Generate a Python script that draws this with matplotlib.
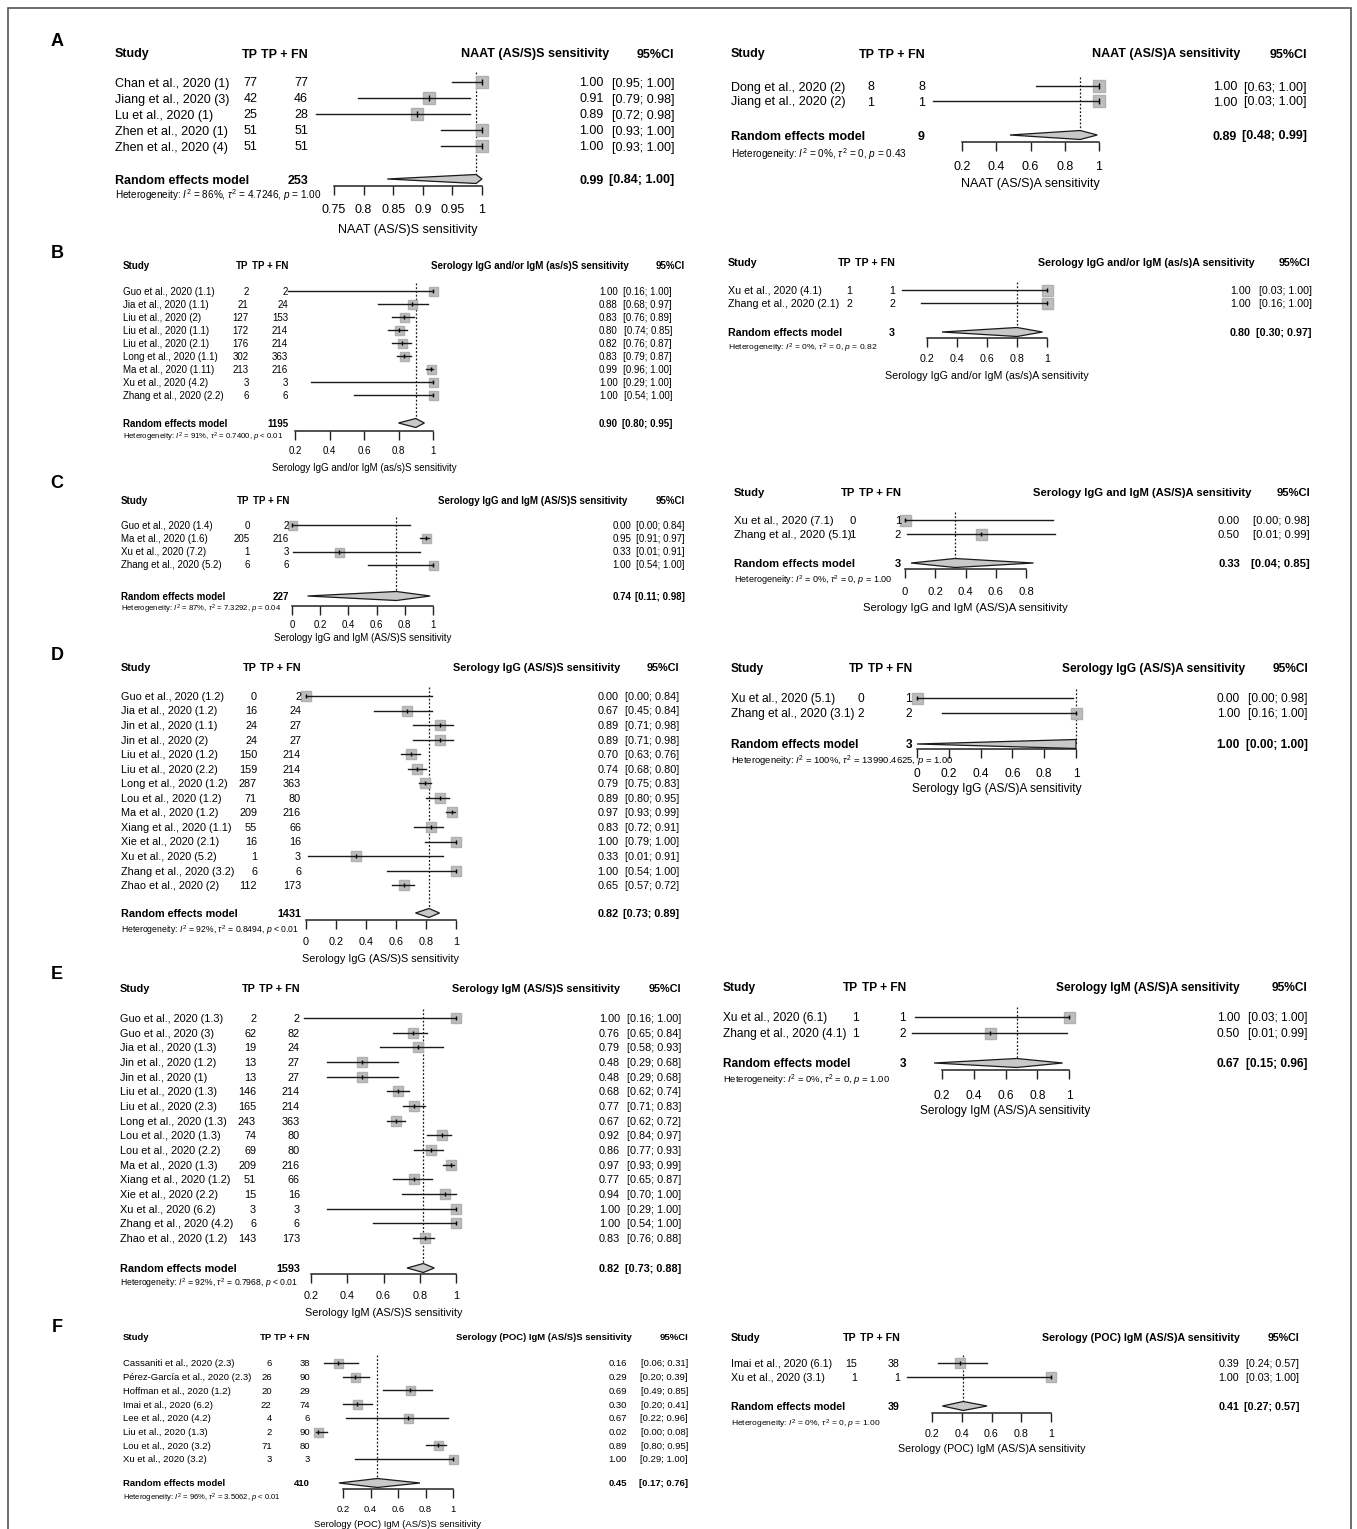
import matplotlib
matplotlib.use("Agg")
import matplotlib.pyplot as plt
import matplotlib.font_manager as fm
from matplotlib.patches import Polygon, Rectangle
from matplotlib.ticker import FuncFormatter
import numpy as np

W, H = 1357, 1529

avail = {f.name for f in fm.fontManager.ttflist}
if "Liberation Sans Narrow" in avail:
    FONT, SCALE = "Liberation Sans Narrow", 1.0
else:
    FONT, SCALE = "Liberation Sans", 0.9

plt.rcParams["font.family"] = [FONT, "DejaVu Sans"]
plt.rcParams["mathtext.fontset"] = "custom"
plt.rcParams["mathtext.rm"] = FONT
plt.rcParams["mathtext.it"] = FONT + ":italic"

#_____________________________________________________________________________
# A: NAAT
naat_s_study = ["Chan et al., 2020 (1)", "Jiang et al., 2020 (3)", "Lu et al., 2020 (1)",
                "Zhen et al., 2020 (1)", "Zhen et al., 2020 (4)"]
naat_s_tp = [77, 42, 25, 51, 51]
naat_s_n = [77, 46, 28, 51, 51]
naat_s_est = [1.00, 0.91, 0.89, 1.00, 1.00]
naat_s_lo = [0.95, 0.79, 0.72, 0.93, 0.93]
naat_s_hi = [1.00, 0.98, 0.98, 1.00, 1.00]
naat_s_re = [253, 0.99, 0.84, 1.00]
naat_s_het = ["86%", "4.7246", "= 1.00"]

naat_a_study = ["Dong et al., 2020 (2)", "Jiang et al., 2020 (2)"]
naat_a_tp = [8, 1]
naat_a_n = [8, 1]
naat_a_est = [1.00, 1.00]
naat_a_lo = [0.63, 0.03]
naat_a_hi = [1.00, 1.00]
naat_a_re = [9, 0.89, 0.48, 0.99]
naat_a_het = ["0%", "0", "= 0.43"]

# B: IgG and/or IgM
any_s_study = ["Guo et al., 2020 (1.1)", "Jia et al., 2020 (1.1)", "Liu et al., 2020 (2)",
               "Liu et al., 2020 (1.1)", "Liu et al., 2020 (2.1)", "Long et al., 2020 (1.1)",
               "Ma et al., 2020 (1.11)", "Xu et al., 2020 (4.2)", "Zhang et al., 2020 (2.2)"]
any_s_tp = [2, 21, 127, 172, 176, 302, 213, 3, 6]
any_s_n = [2, 24, 153, 214, 214, 363, 216, 3, 6]
any_s_est = [1.00, 0.88, 0.83, 0.80, 0.82, 0.83, 0.99, 1.00, 1.00]
any_s_lo = [0.16, 0.68, 0.76, 0.74, 0.76, 0.79, 0.96, 0.29, 0.54]
any_s_hi = [1.00, 0.97, 0.89, 0.85, 0.87, 0.87, 1.00, 1.00, 1.00]
any_s_re = [1195, 0.90, 0.80, 0.95]
any_s_het = ["91%", "0.7400", "< 0.01"]

any_a_study = ["Xu et al., 2020 (4.1)", "Zhang et al., 2020 (2.1)"]
any_a_tp = [1, 2]
any_a_n = [1, 2]
any_a_est = [1.00, 1.00]
any_a_lo = [0.03, 0.16]
any_a_hi = [1.00, 1.00]
any_a_re = [3, 0.80, 0.30, 0.97]
any_a_het = ["0%", "0", "= 0.82"]

# C: IgG and IgM
both_s_study = ["Guo et al., 2020 (1.4)", "Ma et al., 2020 (1.6)", "Xu et al., 2020 (7.2)",
                "Zhang et al., 2020 (5.2)"]
both_s_tp = [0, 205, 1, 6]
both_s_n = [2, 216, 3, 6]
both_s_est = [0.00, 0.95, 0.33, 1.00]
both_s_lo = [0.00, 0.91, 0.01, 0.54]
both_s_hi = [0.84, 0.97, 0.91, 1.00]
both_s_re = [227, 0.74, 0.11, 0.98]
both_s_het = ["87%", "7.3292", "= 0.04"]

both_a_study = ["Xu et al., 2020 (7.1)", "Zhang et al., 2020 (5.1)"]
both_a_tp = [0, 1]
both_a_n = [1, 2]
both_a_est = [0.00, 0.50]
both_a_lo = [0.00, 0.01]
both_a_hi = [0.98, 0.99]
both_a_re = [3, 0.33, 0.04, 0.85]
both_a_het = ["0%", "0", "= 1.00"]

# D: IgG
igg_s_study = ["Guo et al., 2020 (1.2)", "Jia et al., 2020 (1.2)", "Jin et al., 2020 (1.1)",
               "Jin et al., 2020 (2)", "Liu et al., 2020 (1.2)", "Liu et al., 2020 (2.2)",
               "Long et al., 2020 (1.2)", "Lou et al., 2020 (1.2)", "Ma et al., 2020 (1.2)",
               "Xiang et al., 2020 (1.1)", "Xie et al., 2020 (2.1)", "Xu et al., 2020 (5.2)",
               "Zhang et al., 2020 (3.2)", "Zhao et al., 2020 (2)"]
igg_s_tp = [0, 16, 24, 24, 150, 159, 287, 71, 209, 55, 16, 1, 6, 112]
igg_s_n = [2, 24, 27, 27, 214, 214, 363, 80, 216, 66, 16, 3, 6, 173]
igg_s_est = [0.00, 0.67, 0.89, 0.89, 0.70, 0.74, 0.79, 0.89, 0.97, 0.83, 1.00, 0.33, 1.00, 0.65]
igg_s_lo = [0.00, 0.45, 0.71, 0.71, 0.63, 0.68, 0.75, 0.80, 0.93, 0.72, 0.79, 0.01, 0.54, 0.57]
igg_s_hi = [0.84, 0.84, 0.98, 0.98, 0.76, 0.80, 0.83, 0.95, 0.99, 0.91, 1.00, 0.91, 1.00, 0.72]
igg_s_re = [1431, 0.82, 0.73, 0.89]
igg_s_het = ["92%", "0.8494", "< 0.01"]

igg_a_study = ["Xu et al., 2020 (5.1)", "Zhang et al., 2020 (3.1)"]
igg_a_tp = [0, 2]
igg_a_n = [1, 2]
igg_a_est = [0.00, 1.00]
igg_a_lo = [0.00, 0.16]
igg_a_hi = [0.98, 1.00]
igg_a_re = [3, 1.00, 0.00, 1.00]
igg_a_het = ["100%", "13990.4625", "= 1.00"]

# E: IgM
igm_s_study = ["Guo et al., 2020 (1.3)", "Guo et al., 2020 (3)", "Jia et al., 2020 (1.3)",
               "Jin et al., 2020 (1.2)", "Jin et al., 2020 (1)", "Liu et al., 2020 (1.3)",
               "Liu et al., 2020 (2.3)", "Long et al., 2020 (1.3)", "Lou et al., 2020 (1.3)",
               "Lou et al., 2020 (2.2)", "Ma et al., 2020 (1.3)", "Xiang et al., 2020 (1.2)",
               "Xie et al., 2020 (2.2)", "Xu et al., 2020 (6.2)", "Zhang et al., 2020 (4.2)",
               "Zhao et al., 2020 (1.2)"]
igm_s_tp = [2, 62, 19, 13, 13, 146, 165, 243, 74, 69, 209, 51, 15, 3, 6, 143]
igm_s_n = [2, 82, 24, 27, 27, 214, 214, 363, 80, 80, 216, 66, 16, 3, 6, 173]
igm_s_est = [1.00, 0.76, 0.79, 0.48, 0.48, 0.68, 0.77, 0.67, 0.92, 0.86, 0.97, 0.77, 0.94, 1.00, 1.00, 0.83]
igm_s_lo = [0.16, 0.65, 0.58, 0.29, 0.29, 0.62, 0.71, 0.62, 0.84, 0.77, 0.93, 0.65, 0.70, 0.29, 0.54, 0.76]
igm_s_hi = [1.00, 0.84, 0.93, 0.68, 0.68, 0.74, 0.83, 0.72, 0.97, 0.93, 0.99, 0.87, 1.00, 1.00, 1.00, 0.88]
igm_s_re = [1593, 0.82, 0.73, 0.88]
igm_s_het = ["92%", "0.7968", "< 0.01"]

igm_a_study = ["Xu et al., 2020 (6.1)", "Zhang et al., 2020 (4.1)"]
igm_a_tp = [1, 1]
igm_a_n = [1, 2]
igm_a_est = [1.00, 0.50]
igm_a_lo = [0.03, 0.01]
igm_a_hi = [1.00, 0.99]
igm_a_re = [3, 0.67, 0.15, 0.96]
igm_a_het = ["0%", "0", "= 1.00"]

# F: point-of-care IgM
poc_s_study = ["Cassaniti et al., 2020 (2.3)", "Pérez-García et al., 2020 (2.3)",
               "Hoffman et al., 2020 (1.2)", "Imai et al., 2020 (6.2)", "Lee et al., 2020 (4.2)",
               "Liu et al., 2020 (1.3)", "Lou et al., 2020 (3.2)", "Xu et al., 2020 (3.2)"]
poc_s_tp = [6, 26, 20, 22, 4, 2, 71, 3]
poc_s_n = [38, 90, 29, 74, 6, 90, 80, 3]
poc_s_est = [0.16, 0.29, 0.69, 0.30, 0.67, 0.02, 0.89, 1.00]
poc_s_lo = [0.06, 0.20, 0.49, 0.20, 0.22, 0.00, 0.80, 0.29]
poc_s_hi = [0.31, 0.39, 0.85, 0.41, 0.96, 0.08, 0.95, 1.00]
poc_s_re = [410, 0.45, 0.17, 0.76]
poc_s_het = ["96%", "3.5062", "< 0.01"]

poc_a_study = ["Imai et al., 2020 (6.1)", "Xu et al., 2020 (3.1)"]
poc_a_tp = [15, 1]
poc_a_n = [38, 1]
poc_a_est = [0.39, 1.00]
poc_a_lo = [0.24, 0.03]
poc_a_hi = [0.57, 1.00]
poc_a_re = [39, 0.41, 0.27, 0.57]
poc_a_het = ["0%", "0", "= 1.00"]

#_____________________________________________________________________________
def fx(px):
    return px / W

def fy(py):
    return 1. - py / H

#_____________________________________________________________________________
def txt(fig, x, y, s, fs, ha="left", bold=False):

    #y is the visual middle of the capitals, in pixels from the top
    return fig.text(fx(x), fy(y + 0.36 * fs * 100. / 72.), s, ha=ha, va="baseline",
                    fontsize=fs, fontweight="bold" if bold else "normal")

#txt

#_____________________________________________________________________________
def wpx(fig, t):

    return t.get_window_extent(fig.canvas.get_renderer()).width

#wpx

#_____________________________________________________________________________
def forest(fig, title, study, tp, n, est, lo, hi, re, het, lay):

    fs = lay["fs"] * SCALE
    fpx = fs * 100. / 72.
    y0 = lay["y0"]
    dy = lay["dy"]
    x0, x1 = lay["ax"]
    t0, t1, ts = lay["ticks"]
    rn, rest, rlo, rhi = re

    #plot area, rows in units of dy, row 0 at y0
    ytop = y0 - dy
    ax = fig.add_axes([fx(x0), fy(lay["yax"]), fx(x1) - fx(x0), (lay["yax"] - ytop) / H])
    ax.set_xlim(t0, t1)
    ax.set_ylim((lay["yax"] - y0) / dy, -1)
    ax.patch.set_alpha(0)

    for s in ["left", "right", "top"]:
        ax.spines[s].set_visible(False)
    ax.spines["bottom"].set_bounds(t0, t1)
    ax.spines["bottom"].set_linewidth(1.1)
    ax.spines["bottom"].set_color("#222222")
    ax.set_yticks([])
    ticks = np.arange(t0, t1 + 1e-9, ts)
    ax.set_xticks(ticks)
    ax.xaxis.set_major_formatter(FuncFormatter(lambda v, p: "{:g}".format(round(v, 2))))
    tlen = 9.
    pad = (lay["ytl"] - 0.55 * fpx - lay["yax"] - tlen) * 0.72
    ax.tick_params(axis="x", direction="out", length=tlen * 0.72, width=1.0,
                   color="#222222", labelsize=fs, pad=pad)

    #header, TP column kept clear of the TP + FN title
    tn = txt(fig, lay["xn"], lay["yh"], "TP + FN", fs, ha="right", bold=True)
    xtp = min(lay["xtp"], lay["xn"] - wpx(fig, tn) - 0.3 * fpx)
    txt(fig, lay["xs"], lay["yh"], "Study", fs, bold=True)
    txt(fig, xtp, lay["yh"], "TP", fs, ha="right", bold=True)
    tc = txt(fig, lay["xch"], lay["yh"], "95%CI", fs, ha="right", bold=True)
    xt = min(lay["xt"], lay["xch"] - wpx(fig, tc) - 1.2 * fpx)
    txt(fig, xt, lay["yh"], title, fs, ha="right", bold=True)

    #confidence interval column, estimate column placed left of it
    wci = 0.
    for i in range(len(study)):
        t = txt(fig, lay["xc"], y0 + i * dy, "[{:.2f}; {:.2f}]".format(lo[i], hi[i]), fs, ha="right")
        wci = max(wci, wpx(fig, t))
    t = txt(fig, lay["xc"], lay["yre"], "[{:.2f}; {:.2f}]".format(rlo, rhi), fs, ha="right", bold=True)
    wci = max(wci, wpx(fig, t))
    xe = min(lay["xe"], lay["xc"] - wci - 0.4 * fpx)

    bs = lay["box"] * 0.72
    for i in range(len(study)):
        ax.plot(est[i], i, "s", ms=bs, color="#bdbdbd", mec="#b0b0b0", zorder=2, clip_on=False)
        ax.plot([lo[i], hi[i]], [i, i], "-", color="#1a1a1a", lw=1.0, zorder=3, clip_on=False)
        ax.plot(est[i], i, "|", ms=bs * 0.45, color="#000000", mew=1.0, zorder=4, clip_on=False)

        yr = y0 + i * dy
        txt(fig, lay["xs"], yr, study[i], fs)
        txt(fig, xtp, yr, str(tp[i]), fs, ha="right")
        txt(fig, lay["xn"], yr, str(n[i]), fs, ha="right")
        txt(fig, xe, yr, "{:.2f}".format(est[i]), fs, ha="right")

    #random effects summary
    yre = (lay["yre"] - y0) / dy
    h = 4.5 / dy
    ax.add_patch(Polygon([(rlo, yre), (rest, yre - h), (rhi, yre), (rest, yre + h)],
                         closed=True, fc="#c8c8c8", ec="#1a1a1a", lw=0.9, zorder=3, clip_on=False))
    ax.plot([rest, rest], [-0.6, yre], linestyle=(0, (1.5, 1.5)), color="#1a1a1a", lw=0.9,
            zorder=1, clip_on=False)

    txt(fig, lay["xs"], lay["yre"], "Random effects model", fs, bold=True)
    txt(fig, lay["xn"], lay["yre"], str(rn), fs, ha="right", bold=True)
    txt(fig, xe, lay["yre"], "{:.2f}".format(rest), fs, ha="right", bold=True)

    i2, tau2, pval = het
    htxt = r"Heterogeneity: $I^2$ = " + i2 + r", $\tau^2$ = " + tau2 + r", $p$ " + pval
    txt(fig, lay["xs"], lay["yhet"], htxt, fs * 0.8)

    #axis title
    txt(fig, 0.5 * (x0 + x1), lay["yxl"], title, fs, ha="center")

#forest

#_____________________________________________________________________________
def main():

    fig = plt.figure(figsize=(W / 100., H / 100.), dpi=100)
    fig.patch.set_facecolor("white")

    fig.add_artist(Rectangle((fx(8), fy(1560)), fx(1351) - fx(8), (1560 - 8) / H,
                             transform=fig.transFigure, fill=False, ec="#555555", lw=1.2))

    letters = [("A", 40), ("B", 252), ("C", 482), ("D", 654), ("E", 973), ("F", 1325)]
    for l, y in letters:
        fig.text(fx(57), fy(y + 6.5), l, ha="center", va="baseline", fontsize=13,
                 fontweight="bold", family="Liberation Sans")

    lay = {}
    lay["naat_s"] = dict(fs=10, xs=115, xtp=260, xn=308, xt=609, xe=616, xc=674, xch=674,
                         ax=(334, 482), ticks=(0.75, 1.0, 0.05), yh=53, y0=82, dy=16,
                         yre=179, yax=186, yhet=195, ytl=211, yxl=228, box=12)
    lay["naat_a"] = dict(fs=10, xs=731, xtp=879, xn=925, xt=1240, xe=1240, xc=1307, xch=1307,
                         ax=(962, 1099), ticks=(0.2, 1.0, 0.2), yh=53, y0=86, dy=15,
                         yre=135, yax=142, yhet=154, ytl=168, yxl=183, box=12)
    lay["any_s"] = dict(fs=7.8, xs=123, xtp=259, xn=288, xt=629, xe=627, xc=672, xch=685,
                        ax=(295, 433), ticks=(0.2, 1.0, 0.2), yh=265, y0=291, dy=13,
                        yre=423, yax=431, yhet=437, ytl=451, yxl=467, box=9)
    lay["any_a"] = dict(fs=8.5, xs=728, xtp=855, xn=895, xt=1255, xe=1251, xc=1312, xch=1310,
                        ax=(927, 1047), ticks=(0.2, 1.0, 0.2), yh=262, y0=290, dy=13,
                        yre=332, yax=338, yhet=347, ytl=360, yxl=375, box=11)
    lay["both_s"] = dict(fs=7.8, xs=121, xtp=264, xn=289, xt=627, xe=632, xc=685, xch=685,
                         ax=(292, 433), ticks=(0.0, 1.0, 0.2), yh=500, y0=525, dy=13.3,
                         yre=596, yax=606, yhet=609, ytl=625, yxl=637, box=9)
    lay["both_a"] = dict(fs=9, xs=734, xtp=859, xn=901, xt=1251, xe=1240, xc=1310, xch=1310,
                         ax=(905, 1026), ticks=(0.0, 0.8, 0.2), yh=492, y0=520, dy=14,
                         yre=563, yax=569, yhet=580, ytl=593, yxl=607, box=11)
    lay["igg_s"] = dict(fs=8.7, xs=121, xtp=258, xn=301, xt=620, xe=620, xc=679, xch=679,
                        ax=(306, 456), ticks=(0.0, 1.0, 0.2), yh=667, y0=696, dy=14.55,
                        yre=913, yax=920, yhet=930, ytl=943, yxl=958, box=10)
    lay["igg_a"] = dict(fs=9.5, xs=731, xtp=868, xn=912, xt=1245, xe=1240, xc=1308, xch=1308,
                        ax=(917, 1076), ticks=(0.0, 1.0, 0.2), yh=668, y0=698, dy=15,
                        yre=744, yax=749, yhet=761, ytl=775, yxl=788, box=11)
    lay["igm_s"] = dict(fs=8.7, xs=120, xtp=258, xn=300, xt=620, xe=620, xc=681, xch=681,
                        ax=(311, 456), ticks=(0.2, 1.0, 0.2), yh=988, y0=1018, dy=14.67,
                        yre=1268, yax=1274, yhet=1283, ytl=1297, yxl=1312, box=10)
    lay["igm_a"] = dict(fs=9.5, xs=723, xtp=859, xn=906, xt=1240, xe=1240, xc=1307, xch=1307,
                        ax=(942, 1069), ticks=(0.2, 1.0, 0.2), yh=987, y0=1017, dy=16,
                        yre=1063, yax=1070, yhet=1080, ytl=1097, yxl=1110, box=11)
    lay["poc_s"] = dict(fs=7.6, xs=123, xtp=273, xn=310, xt=632, xe=627, xc=688, xch=688,
                        ax=(343, 453), ticks=(0.2, 1.0, 0.2), yh=1337, y0=1363, dy=13.7,
                        yre=1483, yax=1489, yhet=1498, ytl=1510, yxl=1524, box=9)
    lay["poc_a"] = dict(fs=8.5, xs=731, xtp=857, xn=900, xt=1240, xe=1240, xc=1299, xch=1299,
                        ax=(932, 1051), ticks=(0.2, 1.0, 0.2), yh=1337, y0=1363, dy=14,
                        yre=1406, yax=1413, yhet=1423, ytl=1435, yxl=1448, box=10)

    forest(fig, "NAAT (AS/S)S sensitivity", naat_s_study, naat_s_tp, naat_s_n,
           naat_s_est, naat_s_lo, naat_s_hi, naat_s_re, naat_s_het, lay["naat_s"])
    forest(fig, "NAAT (AS/S)A sensitivity", naat_a_study, naat_a_tp, naat_a_n,
           naat_a_est, naat_a_lo, naat_a_hi, naat_a_re, naat_a_het, lay["naat_a"])
    forest(fig, "Serology IgG and/or IgM (as/s)S sensitivity", any_s_study, any_s_tp, any_s_n,
           any_s_est, any_s_lo, any_s_hi, any_s_re, any_s_het, lay["any_s"])
    forest(fig, "Serology IgG and/or IgM (as/s)A sensitivity", any_a_study, any_a_tp, any_a_n,
           any_a_est, any_a_lo, any_a_hi, any_a_re, any_a_het, lay["any_a"])
    forest(fig, "Serology IgG and IgM (AS/S)S sensitivity", both_s_study, both_s_tp, both_s_n,
           both_s_est, both_s_lo, both_s_hi, both_s_re, both_s_het, lay["both_s"])
    forest(fig, "Serology IgG and IgM (AS/S)A sensitivity", both_a_study, both_a_tp, both_a_n,
           both_a_est, both_a_lo, both_a_hi, both_a_re, both_a_het, lay["both_a"])
    forest(fig, "Serology IgG (AS/S)S sensitivity", igg_s_study, igg_s_tp, igg_s_n,
           igg_s_est, igg_s_lo, igg_s_hi, igg_s_re, igg_s_het, lay["igg_s"])
    forest(fig, "Serology IgG (AS/S)A sensitivity", igg_a_study, igg_a_tp, igg_a_n,
           igg_a_est, igg_a_lo, igg_a_hi, igg_a_re, igg_a_het, lay["igg_a"])
    forest(fig, "Serology IgM (AS/S)S sensitivity", igm_s_study, igm_s_tp, igm_s_n,
           igm_s_est, igm_s_lo, igm_s_hi, igm_s_re, igm_s_het, lay["igm_s"])
    forest(fig, "Serology IgM (AS/S)A sensitivity", igm_a_study, igm_a_tp, igm_a_n,
           igm_a_est, igm_a_lo, igm_a_hi, igm_a_re, igm_a_het, lay["igm_a"])
    forest(fig, "Serology (POC) IgM (AS/S)S sensitivity", poc_s_study, poc_s_tp, poc_s_n,
           poc_s_est, poc_s_lo, poc_s_hi, poc_s_re, poc_s_het, lay["poc_s"])
    forest(fig, "Serology (POC) IgM (AS/S)A sensitivity", poc_a_study, poc_a_tp, poc_a_n,
           poc_a_est, poc_a_lo, poc_a_hi, poc_a_re, poc_a_het, lay["poc_a"])

    fig.savefig("out.png", dpi=100)
    plt.close()

#main

#_____________________________________________________________________________
if __name__ == "__main__":

    main()
